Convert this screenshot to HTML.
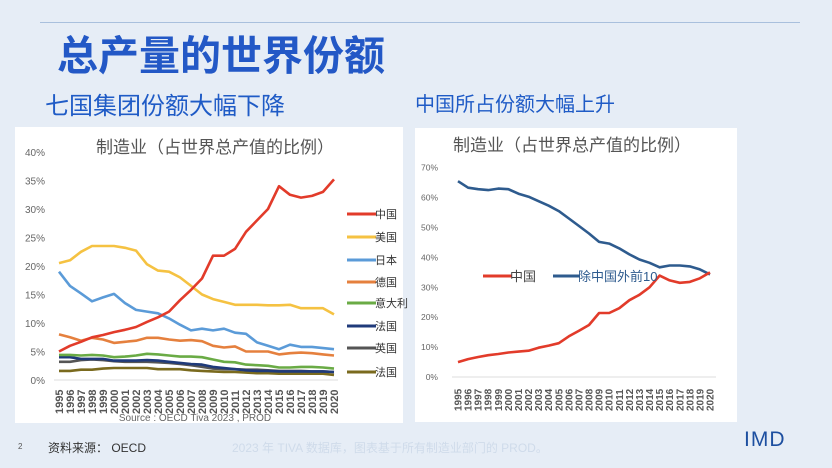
<!DOCTYPE html>
<html><head><meta charset="utf-8"><style>
body{margin:0;width:832px;height:468px;background:#e6edf6;overflow:hidden;font-family:"Liberation Sans","Noto Sans CJK SC",sans-serif;position:relative}
.a{position:absolute;white-space:nowrap}
</style></head><body>
<div class="a" style="left:40px;top:22px;width:760px;height:1px;background:#a9c0dd"></div>
<div class="a" style="left:57px;top:22px;font-size:41px;font-weight:bold;color:#2358c6">总产量的世界份额</div>
<div class="a" style="left:45px;top:86px;font-size:24px;color:#1f5bc6">七国集团份额大幅下降</div>
<div class="a" style="left:415px;top:88px;font-size:20px;color:#1f5bc6">中国所占份额大幅上升</div>
<svg id="s" class="a" style="left:0;top:0" width="832" height="468" font-family="Liberation Sans, Noto Sans CJK SC, sans-serif">
<rect x="15" y="127" width="388" height="296" fill="#fff"/>
<rect x="415" y="128" width="322" height="294" fill="#fff"/>
<text x="215" y="153" font-size="17" fill="#555" text-anchor="middle">制造业（占世界总产值的比例）</text>
<text x="572" y="151" font-size="17" fill="#555" text-anchor="middle">制造业（占世界总产值的比例）</text>
<text x="195" y="421" font-size="10" fill="#666" text-anchor="middle">Source : OECD Tiva 2023 , PROD</text>
<g id="g"></g>
</svg>
<div class="a" style="left:18px;top:442px;font-size:8px;color:#555">2</div>
<div class="a" style="left:48px;top:439px;font-size:12px;color:#333">资料来源：  OECD</div>
<div class="a" style="left:232px;top:439px;font-size:12px;color:#cfdbea">2023 年 TIVA 数据库，图表基于所有制造业部门的 PROD。</div>
<div class="a" style="left:744px;top:428px;font-size:21px;color:#1d4fa0;letter-spacing:1px">IMD</div>
<script>
var g=document.getElementById('g'),h='';
function line(d,x0,x1,y0,k,c,w){var p=d.map(function(v,i){return (x0+i*(x1-x0)/25).toFixed(1)+','+(y0-v*k).toFixed(1)}).join(' ');h+='<polyline points="'+p+'" fill="none" stroke="'+c+'" stroke-width="'+w+'" stroke-linejoin="round"/>';}
for(var i=0;i<=8;i++){h+='<text x="45" y="'+(380-i*28.5+4)+'" font-size="10" fill="#666" text-anchor="end">'+(i*5)+'%</text>';}
h+='<line x1="54" y1="380" x2="338" y2="380" stroke="#ddd"/>';
for(var i=0;i<26;i++){var x=59+i*275/25;h+='<text transform="translate('+(x+4)+',414) rotate(-90)" font-size="11" font-weight="bold" fill="#555">'+(1995+i)+'</text>';
var x2=458+i*252/25;h+='<text transform="translate('+(x2+3.5)+',411) rotate(-90)" font-size="10" font-weight="bold" fill="#555">'+(1995+i)+'</text>';}
for(var i=0;i<=7;i++){h+='<text x="438" y="'+(377-i*29.9+3)+'" font-size="8.5" fill="#666" text-anchor="end">'+(i*10)+'%</text>';}
h+='<line x1="452" y1="377" x2="716" y2="377" stroke="#ddd"/>';
var k=28.5/5;
var S=[
['#7a6a1e',[1.6,1.6,1.8,1.8,2,2.1,2.1,2.1,2.1,1.9,1.9,1.9,1.7,1.6,1.5,1.4,1.4,1.3,1.2,1.2,1.1,1.1,1.1,1.1,1.1,0.9]],
['#555',[3.2,3.2,3.5,3.6,3.5,3.3,3.2,3.2,3.2,3.1,3,2.8,2.6,2.3,2,1.9,1.9,1.8,1.8,1.7,1.6,1.6,1.6,1.5,1.5,1.4]],
['#1f3a7a',[4,4,3.7,3.7,3.7,3.4,3.4,3.4,3.5,3.4,3.2,3.0,2.8,2.7,2.3,2.1,1.9,1.7,1.6,1.6,1.5,1.5,1.5,1.5,1.5,1.4]],
['#6aab45',[4.4,4.4,4.3,4.4,4.3,4,4.1,4.3,4.6,4.5,4.3,4.1,4.1,4,3.6,3.2,3.1,2.7,2.6,2.5,2.2,2.2,2.3,2.3,2.2,2.0]],
['#e5803e',[8,7.5,6.9,7.4,7.1,6.5,6.7,6.9,7.4,7.4,7.1,6.9,7,6.8,6,5.7,5.9,5,5,5,4.5,4.7,4.8,4.7,4.5,4.3]],
['#5b9bd8',[19,16.5,15.2,13.8,14.5,15.1,13.5,12.3,12,11.7,10.8,9.7,8.7,9,8.7,9,8.3,8.1,6.6,6,5.4,6.2,5.8,5.8,5.6,5.4]],
['#f5c242',[20.5,21,22.5,23.5,23.5,23.5,23.2,22.7,20.3,19.2,19,18,16.5,15,14.2,13.7,13.2,13.2,13.2,13.1,13.1,13.2,12.6,12.6,12.6,11.5]],
['#e23b2a',[5,6,6.7,7.5,7.9,8.4,8.8,9.3,10.2,11,12,14,15.8,17.8,21.8,21.8,23,26,28,30,34,32.5,32,32.3,33,35.2]]];
S.forEach(function(s){line(s[1],59,334,380,k,s[0],2.6);});
var L=[['中国','#e23b2a',214],['美国','#f5c242',237],['日本','#5b9bd8',260],['德国','#e5803e',282],['意大利','#6aab45',303],['法国','#1f3a7a',326],['英国','#555',348],['法国','#7a6a1e',372]];
L.forEach(function(l){h+='<line x1="347" y1="'+l[2]+'" x2="376" y2="'+l[2]+'" stroke="'+l[1]+'" stroke-width="3"/><text x="375" y="'+(l[2]+4)+'" font-size="11" fill="#333">'+l[0]+'</text>';});
line([65.5,63.3,62.8,62.5,63,62.8,61.3,60.3,58.8,57.3,55.5,53,50.5,48,45.2,44.6,43,41,39.3,38.2,36.7,37.3,37.3,37,36,34.3],458,710,377,2.99,'#2e5b8e',2.6);
line([5,6,6.7,7.3,7.7,8.2,8.5,8.8,9.8,10.5,11.3,13.6,15.5,17.4,21.4,21.4,23,25.7,27.5,30,33.9,32.3,31.5,31.8,33,35],458,710,377,2.99,'#e23b2a',2.6);
h+='<line x1="483" y1="276" x2="512" y2="276" stroke="#e23b2a" stroke-width="3"/><text x="510" y="281" font-size="13" fill="#444">中国</text>';
h+='<line x1="553" y1="276" x2="580" y2="276" stroke="#2e5b8e" stroke-width="3"/><text x="578" y="281" font-size="13" fill="#2e5b8e">除中国外前10</text>';
g.innerHTML=h;
</script>
</body></html>
